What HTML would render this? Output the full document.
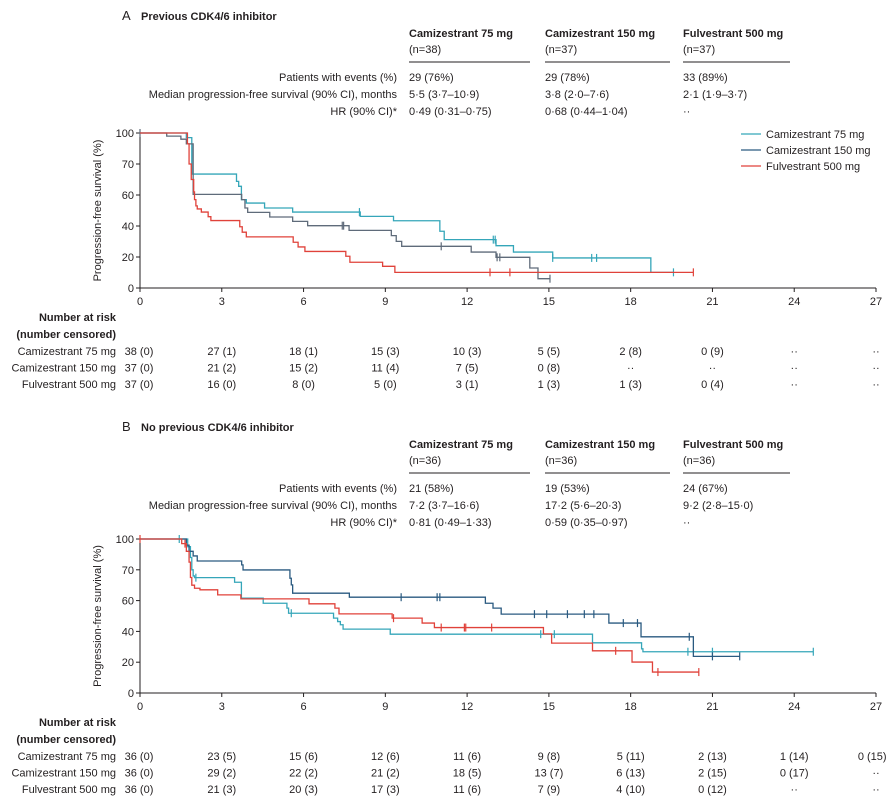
<!DOCTYPE html>
<html><head><meta charset="utf-8"><style>
html,body{margin:0;padding:0;background:#fff;}
svg{display:block;font-family:"Liberation Sans",sans-serif;}
text{font-size:11px;fill:#231f20;}
.b{font-weight:bold;}
</style></head><body>
<svg id="fig" width="893" height="812" viewBox="0 0 893 812">
<g id="layer"></g>
</svg>
<script>
// ---------- data ----------
const xTicks = [0,3,6,9,12,15,18,21,24,27];
const yTickVals = [0,20,40,60,80,100];
const yTickLabels = ["0","20","40","60","70","100"];
const groups = ["Camizestrant 75 mg","Camizestrant 150 mg","Fulvestrant 500 mg"];
const colors = ["#35a6b9","#2a5a80","#e0423a"];
const colorsA = ["#35a6b9","#5f6b7a","#e0423a"];

// Panel A steps (time, value)
const aT75 = [0,1.7,1.9,3.54,3.62,3.72,3.9,4.57,5.6,8.08,9.3,11.0,11.16,13.06,13.7,15.14,18.74,19.57];
const aV75 = [100,97,73.5,68.8,65.6,57,54.8,51.6,49,46.2,43.4,36.6,31.2,27.3,23.2,19.4,10.1,10.1];
const aC75 = [8.05,12.96,13.03,15.14,16.57,16.75,19.57];
const aT150 = [0,0.98,1.5,1.7,1.95,3.73,3.85,3.95,4.76,5.6,6.15,7.67,9.22,9.4,9.6,12.15,13.06,14.3,14.6,15.04];
const aV150 = [100,98,96,93,60.4,57,51.6,48.8,45.8,43,40.2,37.2,33.8,30.1,26.9,23.2,19.8,12.9,6,6];
const aC150 = [0,7.42,7.47,11.05,13.1,13.2,15.04];
const aTF = [0,1.74,1.8,1.88,1.97,2.0,2.05,2.1,2.25,2.5,2.6,3.66,3.75,3.9,5.62,5.8,6.05,7.55,7.7,8.9,9.35,20.3];
const aVF = [100,93,80,70,62,57,53,51,49,46,43.5,39.5,36,33,29.5,26.5,23.6,20.5,16.6,14,10.1,10.1];
const aCF = [12.84,13.57,20.3];

// Panel B steps
const bT75 = [0,1.75,1.85,1.9,1.95,2.0,3.47,3.72,4.52,5.39,5.45,7.1,7.25,7.35,7.45,9.18,16.6,18.4,18.45,24.7];
const bV75 = [100,95,88,80,76,74.9,71.9,61.6,58.3,55.1,51.8,48.6,46.4,44.3,41.5,38.2,32.6,28.7,26.8,26.8];
const bC75 = [1.44,2.05,5.55,14.7,15.2,20.1,21.0,24.7];
const bT150 = [0,1.7,1.8,1.95,2.1,3.73,3.78,5.5,5.55,5.6,7.68,12.67,12.95,13.25,17.2,18.38,20.3,22.0];
const bV150 = [100,96,92,89,85.7,83.2,79.9,74.5,70.2,64.8,62.2,58.3,55.1,51.2,45.4,36.5,23.8,23.8];
const bC150 = [9.58,10.9,11.0,14.47,14.92,15.68,16.3,16.65,17.73,18.25,20.15,21.0,22.0];
const bTF = [0,1.53,1.7,1.8,1.85,1.9,2.0,2.2,2.85,3.7,6.2,7.15,7.3,9.25,10.35,10.8,14.8,15.1,16.6,18.05,18.8,20.5];
const bVF = [100,97,92,85,75,70,68,67,63.7,61.1,57.9,55.1,51.4,48.6,45.4,42.5,38.4,32.4,27.4,20.1,13.6,13.6];
const bCF = [0,1.65,9.3,11.05,11.9,11.95,12.9,17.45,19.0,20.5];

// Risk tables
const riskA75 = ["38 (0)","27 (1)","18 (1)","15 (3)","10 (3)","5 (5)","2 (8)","0 (9)","··","··"];
const riskA150 = ["37 (0)","21 (2)","15 (2)","11 (4)","7 (5)","0 (8)","··","··","··","··"];
const riskAF = ["37 (0)","16 (0)","8 (0)","5 (0)","3 (1)","1 (3)","1 (3)","0 (4)","··","··"];
const riskB75 = ["36 (0)","23 (5)","15 (6)","12 (6)","11 (6)","9 (8)","5 (11)","2 (13)","1 (14)","0 (15)"];
const riskB150 = ["36 (0)","29 (2)","22 (2)","21 (2)","18 (5)","13 (7)","6 (13)","2 (15)","0 (17)","··"];
const riskBF = ["36 (0)","21 (3)","20 (3)","17 (3)","11 (6)","7 (9)","4 (10)","0 (12)","··","··"];

// Summary tables
const headN_A = ["(n=38)","(n=37)","(n=37)"];
const headN_B = ["(n=36)","(n=36)","(n=36)"];
const rowLabels = ["Patients with events (%)","Median progression-free survival (90% CI), months","HR (90% CI)*"];
const sumA = [["29 (76%)","29 (78%)","33 (89%)"],[" 5·5 (3·7–10·9)"," 3·8 (2·0–7·6)"," 2·1 (1·9–3·7)"],[" 0·49 (0·31–0·75)"," 0·68 (0·44–1·04)","   ··"]];
const sumB = [["21 (58%)","19 (53%)","24 (67%)"],[" 7·2 (3·7–16·6)"," 17·2 (5·6–20·3)","  9·2 (2·8–15·0)"],[" 0·81 (0·49–1·33)"," 0·59 (0·35–0·97)","   ··"]];

// ---------- drawing ----------
const NS = "http://www.w3.org/2000/svg";
const root = document.getElementById("layer");
function el(tag, attrs, parent){
  const e = document.createElementNS(NS, tag);
  for (const k in attrs) e.setAttribute(k, attrs[k]);
  (parent||root).appendChild(e);
  return e;
}
function txt(s, x, y, anchor, cls, parent){
  const t = el("text", {x:x, y:y, "text-anchor":anchor||"start"}, parent);
  if (cls) t.setAttribute("class", cls);
  t.textContent = s;
  return t;
}
const X0 = 140, X1 = 876;
function xs(m){ return X0 + m * (X1 - X0) / 27; }

function panel(letter, title, top, yTop, yBot, headN, sum, series, risks, pname, cols3){
  const g = el("g", {});
  
  
  const ys = v => yBot - v * (yBot - yTop) / 100;
  const tl = txt(letter, 122, top + 4, "start", "b", g);
  tl.setAttribute("style", "font-size:13px;font-weight:normal");
  
  
  const tt = txt(title, 141, top + 4, "start", "b", g);
  
  
  const cols = [409, 545, 683];
  const rules = [[409, 530], [545, 670], [683, 790]];
  for (let i = 0; i < 3; i++){
    const h = txt(groups[i], cols[i], top + 21, "start", "b", g);
    
    
    const n = txt(headN[i], cols[i], top + 37, "start", "", g);
    
    
    const r = el("line", {x1:rules[i][0], x2:rules[i][1], y1:top + 46, y2:top + 46, stroke:"#231f20", "stroke-width":1}, g);
    
    
  }
  for (let r = 0; r < 3; r++){
    const y = top + 65 + r * 17;
    const l = txt(rowLabels[r], 397, y, "end", "", g);
    
    
    for (let i = 0; i < 3; i++){
      const v = txt(sum[r][i], cols[i], y, "start", "", g);
      v.setAttribute("xml:space", "preserve");
      
      
    }
  }
  const ax = el("path", {d:`M${X0},${yTop} V${yBot} H${X1}`, fill:"none", stroke:"#231f20", "stroke-width":1}, g);
  
  
  yTickVals.forEach((v, i) => {
    const y = ys(v);
    el("line", {x1:X0 - 4, x2:X0, y1:y, y2:y, stroke:"#231f20"}, g);
    const t = txt(yTickLabels[i], X0 - 6, y + 4, "end", "", g);
    
    
  });
  xTicks.forEach(m => {
    const x = xs(m);
    el("line", {x1:x, x2:x, y1:yBot, y2:yBot + 4, stroke:"#231f20"}, g);
    const t = txt(String(m), x, yBot + 17, "middle", "", g);
    
    
  });
  const yc = (yTop + yBot) / 2;
  const yt = txt("Progression-free survival (%)", 0, 0, "middle", "", g);
  yt.setAttribute("transform", `translate(101,${yc}) rotate(-90)`);
  
  
  series.forEach((s, si) => {
    const [T, V, C] = s;
    let d = `M${xs(T[0])},${ys(V[0])}`;
    for (let i = 1; i < T.length; i++){
      d += ` H${xs(T[i])} V${ys(V[i])}`;
    }
    const p = el("path", {d:d, fill:"none", stroke:cols3[si], "stroke-width":1.3}, g);
    
    
    C.forEach(c => {
      let v = V[0];
      for (let i = 0; i < T.length; i++){ if (T[i] <= c) v = V[i]; }
      const cl = el("line", {x1:xs(c), x2:xs(c), y1:ys(v) - 4, y2:ys(v) + 4, stroke:cols3[si], "stroke-width":1.2}, g);
      
      
    });
  });
  const rt = yBot + 33;
  const h1 = txt("Number at risk", 116, rt, "end", "b", g);
  
  
  const h2 = txt("(number censored)", 116, rt + 17, "end", "b", g);
  
  
  risks.forEach((row, ri) => {
    const y = rt + 34 + ri * 16.5;
    const l = txt(groups[ri], 116, y, "end", "", g);
    
    
    row.forEach((v, i) => {
      let x = xs(xTicks[i]);
      if (i === 0) x -= 1;
      if (i === row.length - 1) x = Math.min(x, 889 - v.length * 2.8);
      const t = txt(v, x, y, "middle", "", g);
      
      
    });
  });
}

panel("A", "Previous CDK4/6 inhibitor", 16, 133, 288, headN_A, sumA,
  [[aT75, aV75, aC75], [aT150, aV150, aC150], [aTF, aVF, aCF]],
  [riskA75, riskA150, riskAF], "panel-a", colorsA);
panel("B", "No previous CDK4/6 inhibitor", 427, 539, 693, headN_B, sumB,
  [[bT75, bV75, bC75], [bT150, bV150, bC150], [bTF, bVF, bCF]],
  [riskB75, riskB150, riskBF], "panel-b", colors);

const lg = el("g", {});


groups.forEach((gname, i) => {
  const y = 134 + i * 16;
  const ln = el("line", {x1:741, x2:761, y1:y, y2:y, stroke:colors[i], "stroke-width":1.3}, lg);
  
  
  const t = txt(gname, 766, y + 4, "start", "", lg);
  
  
});
</script>
</body></html>
